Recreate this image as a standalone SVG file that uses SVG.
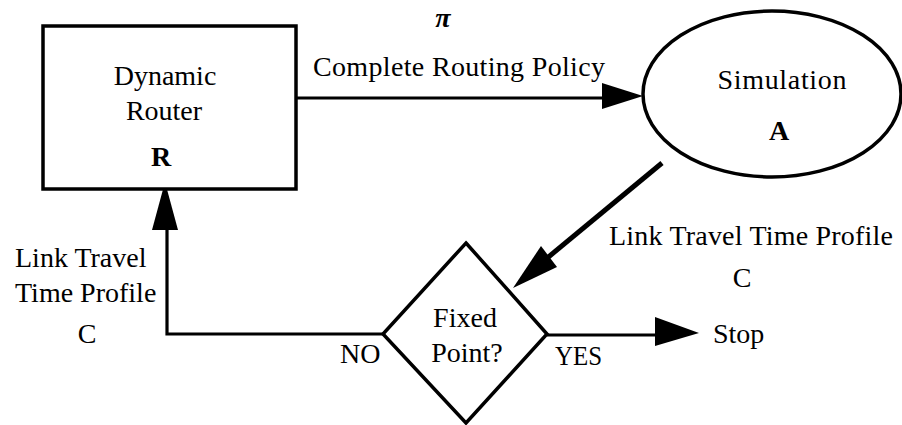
<svg xmlns="http://www.w3.org/2000/svg" width="902" height="425" viewBox="0 0 902 425">
<style>
text{font-family:"Liberation Serif","Times New Roman",serif;font-size:28px;fill:#000}
.b{font-weight:bold}
.c{text-anchor:middle}
.node{fill:#fff;stroke:#000;stroke-width:3.5}
.ln{fill:none;stroke:#000;stroke-width:3.2}
.thick{stroke-width:5}
.ah{fill:#000;stroke:none}
</style>
<rect width="902" height="425" fill="#fff"/>
<g id="connectors">
<line class="ln" x1="296" y1="98" x2="606" y2="98"/>
<polygon class="ah" points="602,83 643,96 602,109"/>
<line class="ln thick" x1="662" y1="163" x2="546" y2="259"/>
<polygon class="ah" points="541,246 557,267 513,288"/>
<polyline class="ln" points="383,334 167,334 167,226"/>
<polygon class="ah" points="165,182 152,230 178,230"/>
<line class="ln" x1="547" y1="335" x2="658" y2="335"/>
<polygon class="ah" points="655,317 699,333 655,346"/>
</g>
<g id="router">
<rect class="node" x="43" y="26" width="253" height="163"/>
<text class="c" x="165" y="85">Dynamic</text>
<text class="c" x="164" y="120">Router</text>
<text class="c b" x="161" y="166" font-size="29">R</text>
</g>
<g id="simulation">
<ellipse class="node" cx="772" cy="94" rx="129" ry="83"/>
<text class="c" x="782" y="89" textLength="129" lengthAdjust="spacing">Simulation</text>
<text class="c b" x="779" y="140" font-size="29">A</text>
</g>
<g id="fixedpoint">
<polygon class="node" points="466,243 547,334 466,423 383,334"/>
<text class="c" x="465" y="327">Fixed</text>
<text class="c" x="467" y="362">Point?</text>
</g>
<g id="stop">
<text x="713" y="343">Stop</text>
</g>
<g id="labels">
<text class="c b" x="443" y="27" font-size="34" font-style="italic">π</text>
<text x="313" y="76" textLength="292" lengthAdjust="spacing">Complete Routing Policy</text>
<text x="609" y="245" textLength="284" lengthAdjust="spacing">Link Travel Time Profile</text>
<text class="c" x="742" y="287">C</text>
<text x="15" y="267">Link Travel</text>
<text x="15" y="302">Time Profile</text>
<text class="c" x="87" y="343">C</text>
<text x="340" y="363" font-size="27">NO</text>
<text x="555" y="365" font-size="26" textLength="47" lengthAdjust="spacingAndGlyphs">YES</text>
</g>
</svg>
